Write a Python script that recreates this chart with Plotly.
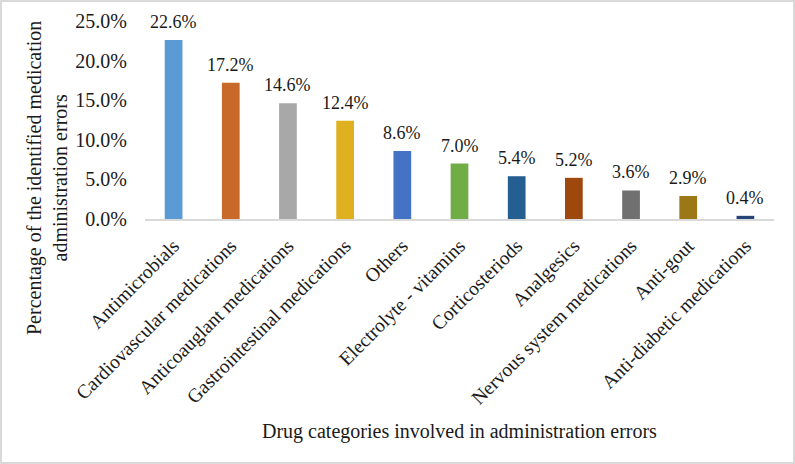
import plotly.graph_objects as go

categories = ["Antimicrobials", "Cardiovascular medications", "Anticoauglant medications",
              "Gastrointestinal medications", "Others", "Electrolyte - vitamins",
              "Corticosteriods", "Analgesics", "Nervous system medications",
              "Anti-gout", "Anti-diabetic medications"]
values = [22.6, 17.2, 14.6, 12.4, 8.6, 7.0, 5.4, 5.2, 3.6, 2.9, 0.4]
colors = ["#5B9BD5", "#C8692A", "#A8A8A8", "#DFB01F", "#4472C4", "#70AD47",
          "#255E91", "#9E480E", "#707070", "#9C7715", "#264478"]
y_ticks = [0, 5, 10, 15, 20, 25]
y_ticklabels = ["0.0%", "5.0%", "10.0%", "15.0%", "20.0%", "25.0%"]

FONT = "Liberation Serif, Times New Roman, serif"
TXT = "#1a1a1a"
W, H = 795, 464
ml, mr, mt, mb = 145, 21, 21, 245
pw = W - ml - mr
ph = H - mt - mb

fig = go.Figure(go.Bar(
    x=categories, y=values,
    marker=dict(color=colors, line=dict(width=0)),
    cliponaxis=False,
))

label_annotations = [
    dict(x=c, y=v, xref="x", yref="y", text=f"{v:.1f}%",
         yanchor="bottom", xanchor="center", yshift=6, showarrow=False,
         font=dict(family=FONT, size=18, color=TXT))
    for c, v in zip(categories, values)
]

fig.update_layout(
    width=W, height=H,
    margin=dict(l=ml, r=mr, t=mt, b=mb, autoexpand=False),
    paper_bgcolor="white", plot_bgcolor="white",
    bargap=0.69,
    showlegend=False,
    font=dict(family=FONT, color=TXT),
    xaxis=dict(
        tickangle=-45,
        tickfont=dict(family=FONT, size=19.5, color=TXT),
        showline=True, linecolor="#D9D9D9", linewidth=1.5,
        showgrid=False, ticks="", automargin=False,
        ticklabelstandoff=6,
    ),
    yaxis=dict(
        range=[0, 25],
        tickvals=y_ticks, ticktext=y_ticklabels,
        tickfont=dict(family=FONT, size=20, color=TXT),
        showgrid=False, zeroline=False, showline=False,
        ticklabelstandoff=17, automargin=False,
    ),
    annotations=label_annotations + [
        dict(text="Percentage of the identified medication<br>administration errors",
             xref="paper", yref="paper",
             x=(47 - ml) / pw, y=(H - mb - 178) / ph,
             xanchor="center", yanchor="middle", textangle=-90,
             showarrow=False, font=dict(family=FONT, size=20, color=TXT)),
        dict(text="Drug categories involved in administration errors",
             xref="paper", yref="paper",
             x=(459 - ml) / pw, y=(H - mb - 431) / ph,
             xanchor="center", yanchor="middle",
             showarrow=False, font=dict(family=FONT, size=20, color=TXT)),
    ],
    shapes=[dict(type="rect", xref="paper", yref="paper",
                 x0=(1 - ml) / pw, x1=(W - 1 - ml) / pw,
                 y0=-(mb - 1) / ph, y1=1 + (mt - 1) / ph,
                 line=dict(color="#D9D9D9", width=2), fillcolor="rgba(0,0,0,0)",
                 layer="above")],
)

fig.write_html("out.html", config={"displayModeBar": False},
               post_script="document.body.style.margin='0';document.body.style.overflow='hidden';")
